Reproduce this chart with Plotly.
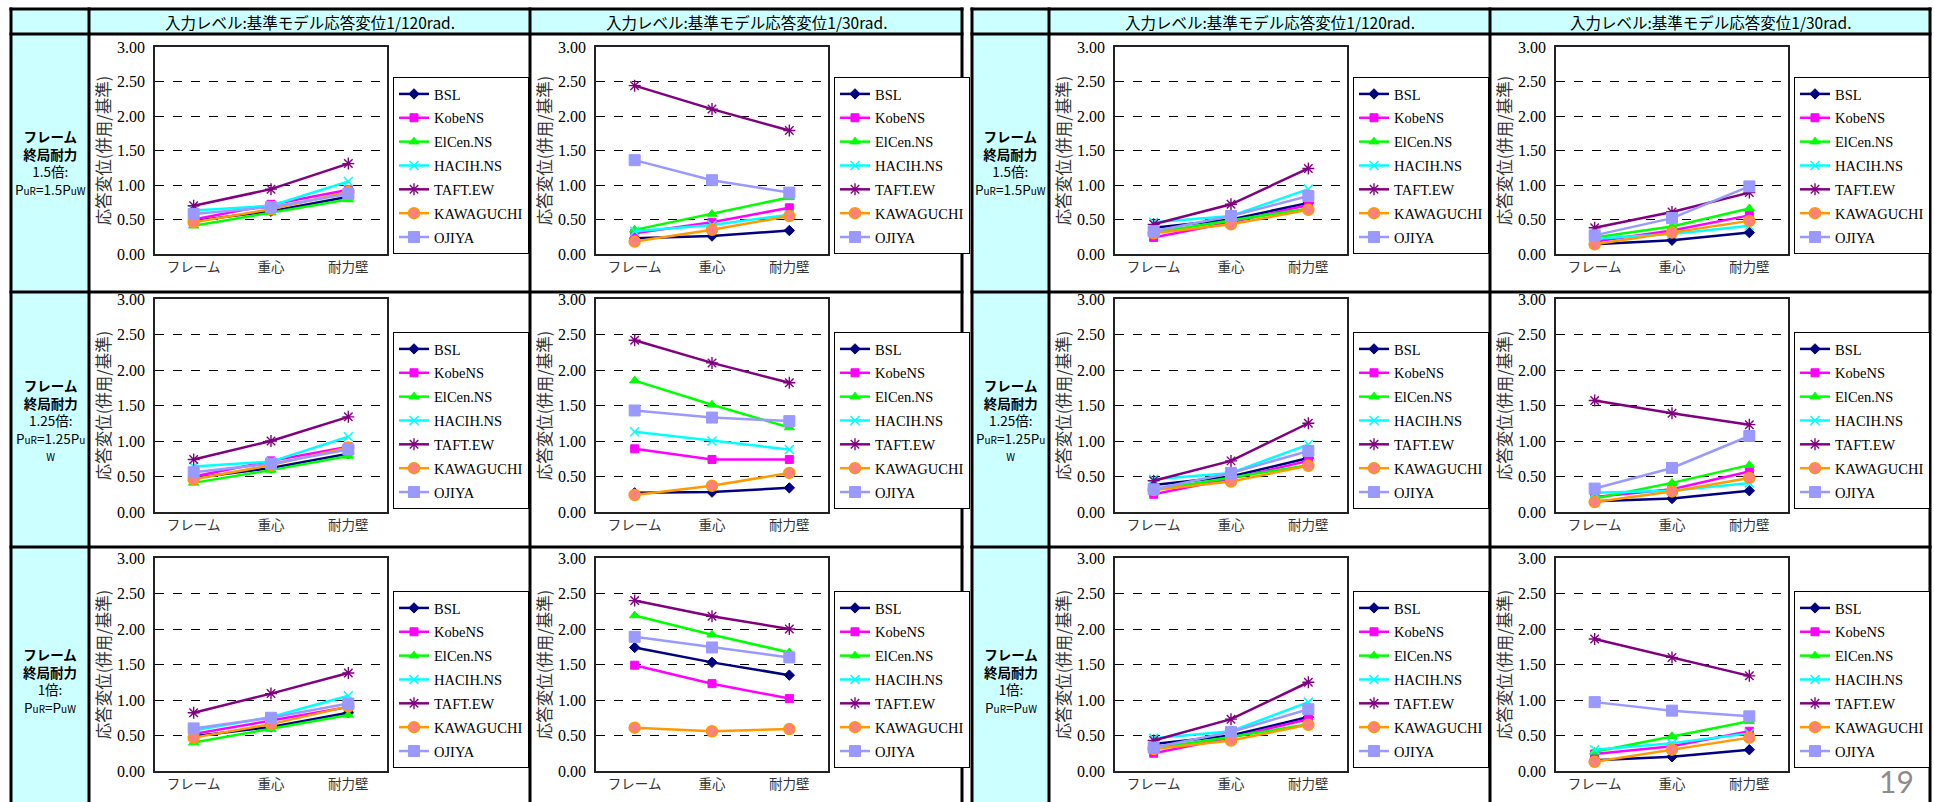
import plotly.graph_objects as go

W, H = 1934, 802

# ---------------- data ----------------
categories = ["フレーム", "重心", "耐力壁"]
series_names = ["BSL", "KobeNS", "ElCen.NS", "HACIH.NS", "TAFT.EW", "KAWAGUCHI", "OJIYA"]
y_tick_values = [0.0, 0.5, 1.0, 1.5, 2.0, 2.5, 3.0]
y_title = "応答変位(併用/基準)"
col_headers = ["入力レベル:基準モデル応答変位1/120rad.", "入力レベル:基準モデル応答変位1/30rad."]
row_headers = [
    "<b>フレーム</b><br><b>終局耐力</b><br>1.5倍:<br>P<span style='font-size:10px'>uR</span>=1.5P<span style='font-size:10px'>uW</span>",
    "<b>フレーム</b><br><b>終局耐力</b><br>1.25倍:<br>P<span style='font-size:10px'>uR</span>=1.25P<span style='font-size:10px'>u</span><br><span style='font-size:10px'>W</span>",
    "<b>フレーム</b><br><b>終局耐力</b><br>1倍:<br>P<span style='font-size:10px'>uR</span>=P<span style='font-size:10px'>uW</span>",
]
page_number = "19"

# left table
A_r1_120 = {"BSL": [0.48, 0.62, 0.83], "KobeNS": [0.50, 0.72, 0.93], "ElCen.NS": [0.41, 0.60, 0.79],
            "HACIH.NS": [0.63, 0.70, 1.05], "TAFT.EW": [0.70, 0.94, 1.31], "KAWAGUCHI": [0.46, 0.65, 0.90],
            "OJIYA": [0.58, 0.68, 0.87]}
A_r1_30 = {"BSL": [0.23, 0.26, 0.34], "KobeNS": [0.30, 0.46, 0.67], "ElCen.NS": [0.35, 0.58, 0.82],
           "HACIH.NS": [0.33, 0.42, 0.57], "TAFT.EW": [2.44, 2.10, 1.79], "KAWAGUCHI": [0.18, 0.35, 0.55],
           "OJIYA": [1.36, 1.07, 0.89]}
A_r2_120 = {"BSL": [0.48, 0.62, 0.82], "KobeNS": [0.50, 0.72, 0.92], "ElCen.NS": [0.41, 0.59, 0.79],
            "HACIH.NS": [0.64, 0.71, 1.06], "TAFT.EW": [0.74, 1.00, 1.34], "KAWAGUCHI": [0.46, 0.66, 0.91],
            "OJIYA": [0.56, 0.68, 0.88]}
A_r2_30 = {"BSL": [0.27, 0.28, 0.34], "KobeNS": [0.89, 0.74, 0.74], "ElCen.NS": [1.85, 1.51, 1.19],
           "HACIH.NS": [1.13, 1.00, 0.88], "TAFT.EW": [2.42, 2.10, 1.82], "KAWAGUCHI": [0.24, 0.37, 0.55],
           "OJIYA": [1.43, 1.33, 1.28]}
A_r3_120 = {"BSL": [0.49, 0.62, 0.82], "KobeNS": [0.52, 0.71, 0.90], "ElCen.NS": [0.40, 0.59, 0.79],
            "HACIH.NS": [0.57, 0.76, 1.06], "TAFT.EW": [0.82, 1.09, 1.38], "KAWAGUCHI": [0.47, 0.66, 0.91],
            "OJIYA": [0.60, 0.75, 0.95]}
A_r3_30 = {"BSL": [1.74, 1.53, 1.35], "KobeNS": [1.49, 1.23, 1.02], "ElCen.NS": [2.19, 1.92, 1.67],
           "HACIH.NS": [None, None, None], "TAFT.EW": [2.40, 2.18, 2.00], "KAWAGUCHI": [0.61, 0.56, 0.59],
           "OJIYA": [1.89, 1.74, 1.60]}
# right table
B_r1_120 = {"BSL": [0.38, 0.50, 0.74], "KobeNS": [0.24, 0.46, 0.71], "ElCen.NS": [0.31, 0.48, 0.66],
            "HACIH.NS": [0.46, 0.55, 0.94], "TAFT.EW": [0.43, 0.72, 1.24], "KAWAGUCHI": [0.30, 0.43, 0.64],
            "OJIYA": [0.33, 0.55, 0.84]}
B_r1_30 = {"BSL": [0.14, 0.20, 0.31], "KobeNS": [0.18, 0.34, 0.56], "ElCen.NS": [0.24, 0.40, 0.66],
           "HACIH.NS": [0.22, 0.29, 0.41], "TAFT.EW": [0.38, 0.61, 0.89], "KAWAGUCHI": [0.14, 0.31, 0.48],
           "OJIYA": [0.27, 0.52, 0.98]}
B_r2_120 = {"BSL": [0.38, 0.50, 0.76], "KobeNS": [0.25, 0.47, 0.72], "ElCen.NS": [0.31, 0.48, 0.66],
            "HACIH.NS": [0.46, 0.55, 0.95], "TAFT.EW": [0.44, 0.72, 1.25], "KAWAGUCHI": [0.31, 0.43, 0.65],
            "OJIYA": [0.32, 0.55, 0.86]}
B_r2_30 = {"BSL": [0.15, 0.19, 0.30], "KobeNS": [0.21, 0.32, 0.57], "ElCen.NS": [0.19, 0.41, 0.66],
           "HACIH.NS": [0.27, 0.30, 0.41], "TAFT.EW": [1.57, 1.39, 1.23], "KAWAGUCHI": [0.14, 0.29, 0.48],
           "OJIYA": [0.33, 0.62, 1.07]}
B_r3_120 = {"BSL": [0.38, 0.50, 0.76], "KobeNS": [0.25, 0.47, 0.73], "ElCen.NS": [0.32, 0.48, 0.66],
            "HACIH.NS": [0.46, 0.56, 0.97], "TAFT.EW": [0.43, 0.73, 1.25], "KAWAGUCHI": [0.31, 0.43, 0.65],
            "OJIYA": [0.33, 0.55, 0.87]}
B_r3_30 = {"BSL": [0.15, 0.20, 0.30], "KobeNS": [0.24, 0.35, 0.56], "ElCen.NS": [0.27, 0.49, 0.70],
           "HACIH.NS": [0.30, 0.39, 0.53], "TAFT.EW": [1.86, 1.60, 1.34], "KAWAGUCHI": [0.13, 0.30, 0.47],
           "OJIYA": [0.97, 0.85, 0.77]}

# (table index, row index, column index, data)
panels = [
    (0, 0, 0, A_r1_120), (0, 0, 1, A_r1_30),
    (0, 1, 0, A_r2_120), (0, 1, 1, A_r2_30),
    (0, 2, 0, A_r3_120), (0, 2, 1, A_r3_30),
    (1, 0, 0, B_r1_120), (1, 0, 1, B_r1_30),
    (1, 1, 0, B_r2_120), (1, 1, 1, B_r2_30),
    (1, 2, 0, B_r3_120), (1, 2, 1, B_r3_30),
]

# ---------------- styles ----------------
styles = {
    "BSL": dict(color="#000080", symbol="diamond", size=8, fill="#000080", mline="#000080", mw=1),
    "KobeNS": dict(color="#FF00FF", symbol="square", size=8, fill="#FF00FF", mline="#FF00FF", mw=1),
    "ElCen.NS": dict(color="#00FF00", symbol="triangle-up", size=9, fill="#00FF00", mline="#00FF00", mw=1),
    "HACIH.NS": dict(color="#00FFFF", symbol="x-thin-open", size=9, fill="#00FFFF", mline="#00FFFF", mw=1.6),
    "TAFT.EW": dict(color="#800080", symbol="asterisk-open", size=10, fill="#800080", mline="#800080", mw=1.4),
    "KAWAGUCHI": dict(color="#FF9900", symbol="circle", size=11, fill="#FF8080", mline="#FF9900", mw=1.5),
    "OJIYA": dict(color="#9999FF", symbol="square", size=11, fill="#9999FF", mline="#9999FF", mw=1),
}

# geometry (pixels)
tables_x = [(11, 89, 530, 962), (972, 1049, 1490, 1930)]
row_lines = [9, 34, 292, 547]
plot_y = [(47, 254), (299, 512), (558, 771)]
legend_top = [77, 332, 591]
PLOT_L, PLOT_R, LEG_L = 66, 298, 304


def fx(x):
    return x / W


def fy(y):
    return 1 - y / H


fig = go.Figure()
layout = dict(
    width=W, height=H, margin=dict(l=0, r=0, t=0, b=0),
    paper_bgcolor="white", plot_bgcolor="white", showlegend=True,
)
shapes = []
annotations = []

# table backgrounds and lines
for (x0, xl, xd, x1) in tables_x:
    shapes.append(dict(type="rect", xref="paper", yref="paper", x0=fx(x0), x1=fx(x1),
                       y0=fy(row_lines[1]), y1=fy(row_lines[0]), fillcolor="#CCFFFF",
                       line=dict(width=0), layer="below"))
    shapes.append(dict(type="rect", xref="paper", yref="paper", x0=fx(x0), x1=fx(xl),
                       y0=fy(H + 10), y1=fy(row_lines[0]), fillcolor="#CCFFFF",
                       line=dict(width=0), layer="below"))
    for xv in (x0, xl, xd, x1):
        shapes.append(dict(type="line", xref="paper", yref="paper", x0=fx(xv), x1=fx(xv),
                           y0=fy(H + 10), y1=fy(row_lines[0] - 1.5), line=dict(color="black", width=3)))
    for yv in row_lines:
        shapes.append(dict(type="line", xref="paper", yref="paper", x0=fx(x0 - 1.5), x1=fx(x1 + 1.5),
                           y0=fy(yv), y1=fy(yv), line=dict(color="black", width=3)))
    for ci, (ca, cb) in enumerate([(xl, xd), (xd, x1)]):
        annotations.append(dict(text=col_headers[ci], xref="paper", yref="paper",
                                x=fx((ca + cb) / 2), y=fy((row_lines[0] + row_lines[1]) / 2 + 1),
                                showarrow=False, xanchor="center", yanchor="middle",
                                font=dict(family="Noto Sans CJK JP", size=15.5, color="black")))
    bounds = row_lines[1:] + [802]
    for ri in range(3):
        yc = (bounds[ri] + bounds[ri + 1]) / 2 if ri < 2 else 680
        annotations.append(dict(text=row_headers[ri], xref="paper", yref="paper",
                                x=fx((x0 + xl) / 2), y=fy(yc), showarrow=False,
                                xanchor="center", yanchor="middle", align="center",
                                font=dict(family="Noto Sans CJK JP", size=13.5, color="black")))

for i, (ti, ri, ci, data) in enumerate(panels, start=1):
    x0, xl, xd, x1 = tables_x[ti]
    col_left = xl if ci == 0 else xd
    px0, px1 = col_left + PLOT_L, col_left + PLOT_R
    py0, py1 = plot_y[ri]
    sfx = "" if i == 1 else str(i)
    leg_name = "legend" + sfx
    layout["xaxis" + sfx] = dict(
        domain=[fx(px0), fx(px1)], anchor="y" + sfx, type="category",
        categoryorder="array", categoryarray=categories, range=[-0.5, 2.5],
        showline=True, mirror=True, linecolor="#222", linewidth=1.5,
        showgrid=False, zeroline=False, ticks="", ticklabelstandoff=0,
        tickfont=dict(family="Noto Sans CJK JP", size=13.5, color="#333"), fixedrange=True,
    )
    layout["yaxis" + sfx] = dict(
        domain=[fy(py1), fy(py0)], anchor="x" + sfx, range=[0, 3],
        tickvals=y_tick_values, tickformat=".2f",
        showline=True, mirror=True, linecolor="#222", linewidth=1.5,
        showgrid=True, gridcolor="black", gridwidth=1, griddash="dash", zeroline=False,
        ticks="", ticklabelstandoff=5,
        tickfont=dict(family="Liberation Serif", size=16, color="black"),
        title=dict(text=y_title, standoff=2,
                   font=dict(family="Noto Sans CJK JP", size=16.5, color="#333")),
        automargin=False, fixedrange=True,
    )
    layout[leg_name] = dict(
        x=fx(col_left + LEG_L), y=fy(legend_top[ri]), xanchor="left", yanchor="top",
        bgcolor="white", bordercolor="black", borderwidth=1, tracegroupgap=2,
        font=dict(family="Liberation Serif", size=14.5, color="black"),
    )
    for name in series_names:
        st = styles[name]
        fig.add_trace(go.Scatter(
            x=categories, y=data[name], name=name, mode="lines+markers",
            xaxis="x" + sfx, yaxis="y" + sfx, legend=leg_name, legendgroup=f"p{i}_{name}",
            line=dict(color=st["color"], width=2.5),
            marker=dict(symbol=st["symbol"], size=st["size"], color=st["fill"],
                        line=dict(color=st["mline"], width=st["mw"])),
            hoverinfo="skip",
        ))

annotations.append(dict(text=page_number, xref="paper", yref="paper", x=fx(1896), y=fy(781),
                        showarrow=False, xanchor="center", yanchor="middle",
                        font=dict(family="Lato", size=30, color="#8c8c8c")))

layout["shapes"] = shapes
layout["annotations"] = annotations
fig.update_layout(**layout)
fig.write_html("out.html", config={"displayModeBar": False},
               post_script="document.body.style.margin='0';document.body.style.overflow='hidden';")
